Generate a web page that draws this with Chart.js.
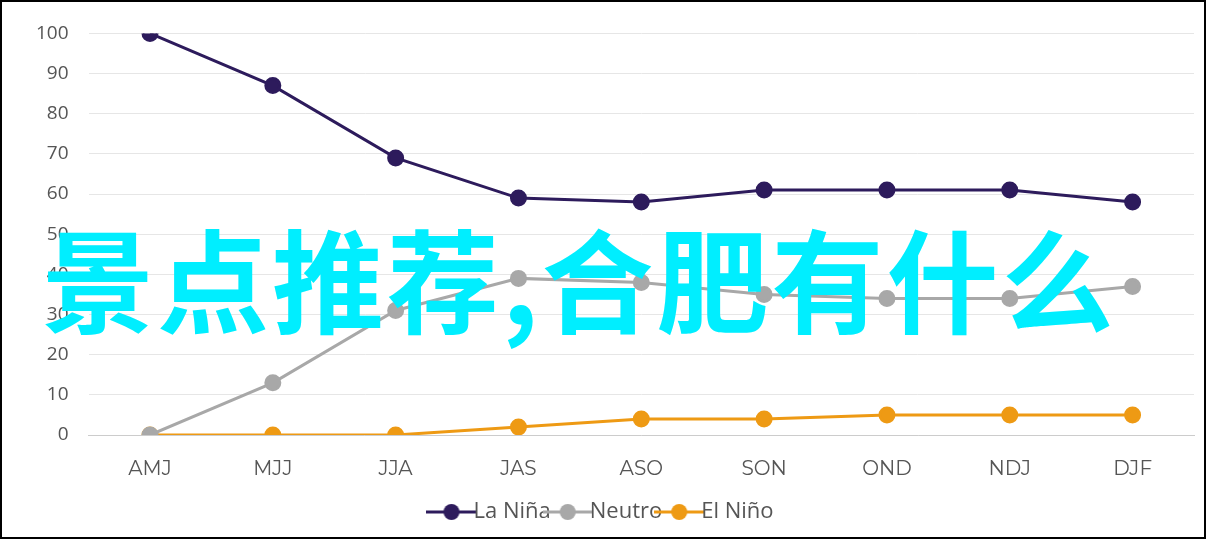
<!DOCTYPE html>
<html>
<head>
<meta charset="utf-8">
<script src="https://cdn.jsdelivr.net/npm/chart.js@4/dist/chart.umd.min.js"></script>
<style>
  html, body { margin: 0; padding: 0; background: #fff; }
  .wrap { position: relative; width: 1206px; height: 539px; box-sizing: border-box; border: 2px solid #000; }
  .overlay {
    position: absolute; left: 40px; top: 218px;
    font-family: "Noto Sans CJK SC", sans-serif; font-weight: 700;
    font-size: 112px; line-height: 1; color: #00eeff; letter-spacing: 3px;
    pointer-events: none; white-space: nowrap;
  }
</style>
</head>
<body>
<div class="wrap">
  <canvas id="chart" width="1202" height="535"></canvas>
  <div class="overlay">景点推荐,合肥有什么</div>
</div>
<script>
const categories = ['AMJ', 'MJJ', 'JJA', 'JAS', 'ASO', 'SON', 'OND', 'NDJ', 'DJF'];
const laNina = [100, 87, 69, 59, 58, 61, 61, 61, 58];
const neutro = [0, 13, 31, 39, 38, 35, 34, 34, 37];
const elNino = [0, 0, 0, 2, 4, 4, 5, 5, 5];

function series(label, data, color) {
    return {
        label: label,
        data: data,
        borderColor: color,
        backgroundColor: color,
        borderWidth: 3,
        pointRadius: 7,
        pointHoverRadius: 7,
        tension: 0
    };
}

// 图例标记：线 + 圆点
function legendMarker(color) {
    const c = document.createElement('canvas');
    c.width = 50; c.height = 20;
    const g = c.getContext('2d');
    g.strokeStyle = color; g.lineWidth = 3;
    g.beginPath(); g.moveTo(0, 10); g.lineTo(50, 10); g.stroke();
    g.fillStyle = color;
    g.beginPath(); g.arc(25, 10, 8, 0, Math.PI * 2); g.fill();
    return c;
}

new Chart(document.getElementById('chart').getContext('2d'), {
    type: 'line',
    data: {
        labels: categories,
        datasets: [
            series('La Niña', laNina, '#2d1b5c'),
            series('Neutro', neutro, '#a8a8a8'),
            series('El Niño', elNino, '#ee9a14')
        ]
    },
    options: {
        responsive: false,
        animation: false,
        layout: { padding: { left: 14, right: 6, top: 12, bottom: 4 } },
        scales: {
            x: {
                offset: true,
                grid: { display: false },
                border: { color: '#cccccc' },
                ticks: { color: '#555', font: { family: 'Montserrat, "Open Sans", sans-serif', size: 20 }, padding: 14 }
            },
            y: {
                min: 0,
                max: 100,
                ticks: { stepSize: 10, color: '#555', font: { family: '"Open Sans", sans-serif', size: 19 }, padding: 20 },
                grid: { color: '#e6e6e6', drawTicks: false },
                border: { display: false }
            }
        },
        plugins: {
            legend: {
                position: 'bottom',
                labels: {
                    usePointStyle: true,
                    color: '#555',
                    padding: 6,
                    font: { family: '"Open Sans", sans-serif', size: 22 },
                    generateLabels: function(chart) {
                        return chart.data.datasets.map((ds, i) => ({
                            text: ds.label,
                            pointStyle: legendMarker(ds.borderColor),
                            fontColor: '#555',
                            datasetIndex: i,
                            hidden: false,
                            lineWidth: 0
                        }));
                    }
                }
            },
            tooltip: { enabled: false }
        }
    }
});
</script>
</body>
</html>
